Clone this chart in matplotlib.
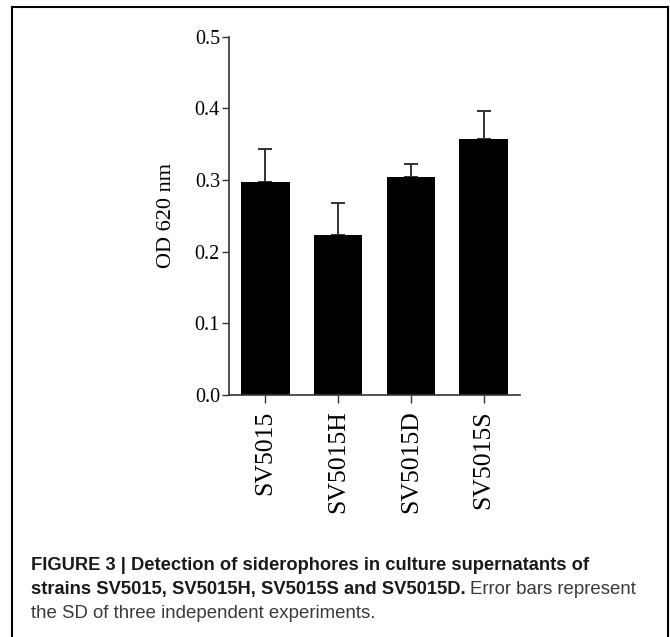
import matplotlib
matplotlib.use("Agg")
import matplotlib.pyplot as plt
from matplotlib.patches import Rectangle

# ---- data ----
strains = ["SV5015", "SV5015H", "SV5015D", "SV5015S"]
od620 = [0.297, 0.223, 0.304, 0.357]
sd = [0.046, 0.045, 0.019, 0.040]
yticks = [0.0, 0.1, 0.2, 0.3, 0.4, 0.5]
ytick_labels = ["0.0", "0.1", "0.2", "0.3", "0.4", "0.5"]

W, H = 670, 637
fig = plt.figure(figsize=(W / 100, H / 100), dpi=100)

# border box
fig.patches.append(Rectangle((12 / W, -0.05), (668 - 12) / W, 1.05 - 7 / H,
                             transform=fig.transFigure, fill=False,
                             edgecolor="black", linewidth=1.5))

ax = fig.add_axes([229 / W, 1 - 395 / H, (520 - 229) / W, (395 - 36.7) / H])
serif = ["Liberation Serif", "DejaVu Serif"]
x = list(range(len(strains)))
ax.bar(x, od620, width=0.67, color="black", edgecolor="none", zorder=2)
ax.errorbar(x, od620, yerr=[[0] * len(sd), sd], fmt="none", ecolor="#333333",
            elinewidth=1.4, capsize=4.7, capthick=1.4, zorder=1)

ax.set_xlim(-0.5, 3.5)
ax.set_ylim(0, 0.5)
ax.set_yticks(yticks)
ax.set_yticklabels(ytick_labels, fontfamily=serif, fontsize=14.5)
ax.set_xticks(x)
ax.set_xticklabels(strains, rotation=90, fontfamily=serif, fontsize=18.5)
for s in ["top", "right"]:
    ax.spines[s].set_visible(False)
for s in ["left", "bottom"]:
    ax.spines[s].set_color("#333333")
    ax.spines[s].set_linewidth(1.2)
ax.tick_params(axis="y", length=5, width=1.0, color="#333333", pad=1.5)
ax.tick_params(axis="x", length=6, width=1.0, color="#333333", pad=5)
ax.set_ylabel("OD 620 nm", fontfamily=serif, fontsize=16, va="center")
ax.yaxis.set_label_coords(-0.215, 0.5)

# caption
sans = ["Liberation Sans", "DejaVu Sans"]
cb = 13.2
cn = 13.4
x0 = 31 / W
fig.text(x0, 1 - 570 / H, "FIGURE 3 | Detection of siderophores in culture supernatants of",
         fontfamily=sans, fontweight="bold", fontsize=cb, color="#1a1a1a", va="baseline")
t2 = fig.text(x0, 1 - 594 / H, "strains SV5015, SV5015H, SV5015S and SV5015D.",
              fontfamily=sans, fontweight="bold", fontsize=cb, color="#1a1a1a", va="baseline")
fig.canvas.draw()
bb = t2.get_window_extent(fig.canvas.get_renderer())
fig.text(bb.x1 / W + 4 / W, 1 - 594 / H, "Error bars represent",
         fontfamily=sans, fontsize=cn, color="#3a3a3a", va="baseline")
fig.text(x0, 1 - 618 / H, "the SD of three independent experiments.",
         fontfamily=sans, fontsize=cn, color="#3a3a3a", va="baseline")

fig.savefig("out.png", dpi=100)
